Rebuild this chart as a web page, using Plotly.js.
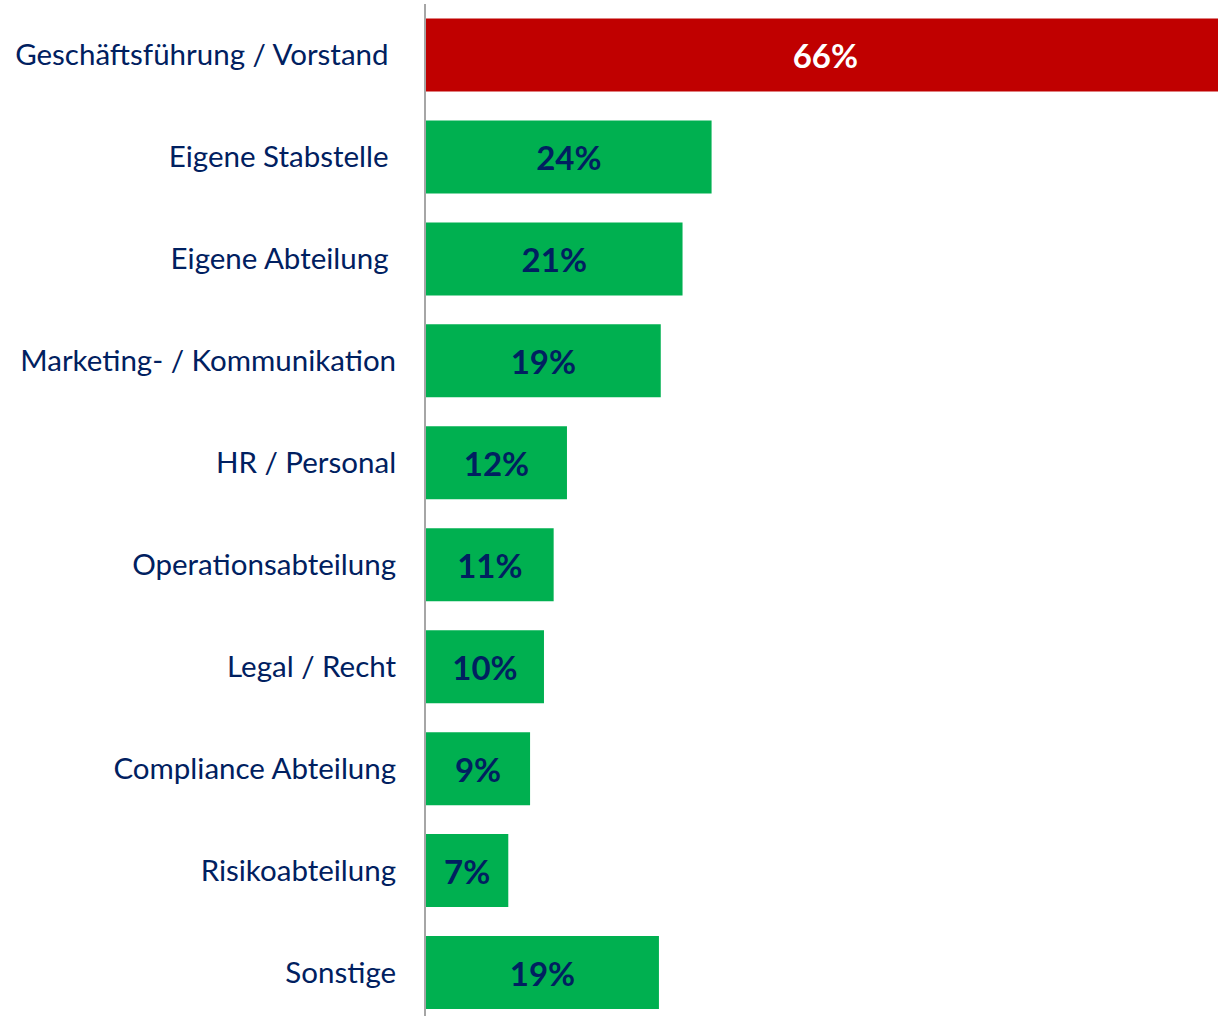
<!DOCTYPE html>
<html>
<head>
<meta charset="utf-8">
<script src="https://cdn.plot.ly/plotly-3.0.1.min.js"></script>
<style>html,body{margin:0;padding:0;background:#fff;}#chart{width:1218px;height:1016px;}</style>
</head>
<body>
<div id="chart"></div>
<script>
var categories = ["Geschäftsführung / Vorstand", "Eigene Stabstelle", "Eigene Abteilung", "Marketing- / Kommunikation", "HR / Personal", "Operationsabteilung", "Legal / Recht", "Compliance Abteilung", "Risikoabteilung", "Sonstige"];
var tickLabels = ["Geschäftsführung / Vorstand\u00a0", "Eigene Stabstelle\u00a0", "Eigene Abteilung\u00a0", "Marketing- / Kommunikation", "HR / Personal", "Operationsabteilung", "Legal / Recht", "Compliance Abteilung", "Risikoabteilung", "Sonstige"];
var values = [66, 23.6, 21.2, 19.4, 11.65, 10.55, 9.75, 8.6, 6.8, 19.25];
var valueLabels = ["66%", "24%", "21%", "19%", "12%", "11%", "10%", "9%", "7%", "19%"];
var barColors = ["#c00000", "#00b050", "#00b050", "#00b050", "#00b050", "#00b050", "#00b050", "#00b050", "#00b050", "#00b050"];
var labelColors = ["#ffffff", "#002060", "#002060", "#002060", "#002060", "#002060", "#002060", "#002060", "#002060", "#002060"];

var trace = {
  type: "bar",
  orientation: "h",
  y: categories,
  x: values,
  text: valueLabels,
  textposition: "inside",
  insidetextanchor: "middle",
  textangle: 0,
  constraintext: "none",
  insidetextfont: {family: "Lato, 'Open Sans', sans-serif", size: 33, color: labelColors, weight: "bold"},
  marker: {color: barColors, line: {width: 0}},
  hoverinfo: "none"
};

var layout = {
  width: 1218,
  height: 1016,
  margin: {l: 426, r: 0, t: 4, b: 0, pad: 0},
  paper_bgcolor: "#ffffff",
  plot_bgcolor: "#ffffff",
  showlegend: false,
  bargap: 0.284,
  xaxis: {
    range: [0, 65.45],
    showgrid: false,
    zeroline: false,
    showticklabels: false,
    showline: false,
    fixedrange: true
  },
  yaxis: {
    type: "category",
    categoryorder: "array",
    categoryarray: categories,
    tickmode: "array",
    tickvals: categories,
    ticktext: tickLabels,
    range: [9.426, -0.5],
    showgrid: false,
    zeroline: false,
    showline: true,
    linecolor: "#a6a6a6",
    linewidth: 2,
    ticks: "",
    ticklabelstandoff: 22,
    tickfont: {family: "Lato, 'Open Sans', sans-serif", size: 29.5, color: "#002060"},
    automargin: false,
    fixedrange: true
  }
};

Plotly.newPlot("chart", [trace], layout, {displayModeBar: false, staticPlot: true});
</script>
</body>
</html>
